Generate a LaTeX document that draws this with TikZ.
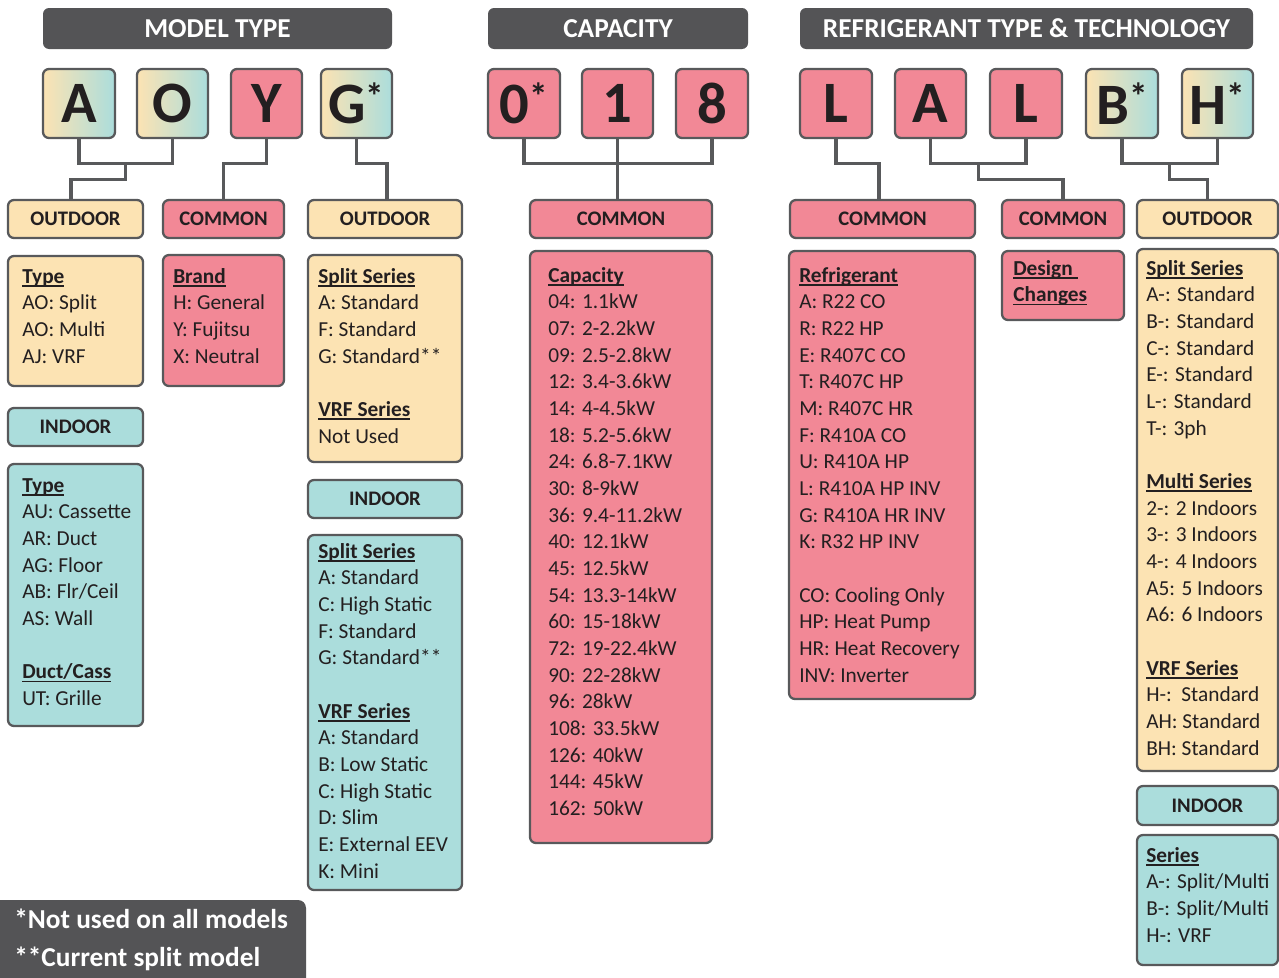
\documentclass[tikz,border=0pt]{standalone}
\usepackage{fontspec}
\setmainfont{Carlito}
\usetikzlibrary{fit,calc}
\definecolor{peach}{HTML}{FCE3B3}
\definecolor{pinkc}{HTML}{F28896}
\definecolor{tealc}{HTML}{ABDDDC}
\definecolor{dgray}{HTML}{545456}
\definecolor{bord}{HTML}{58595B}
\definecolor{ink}{HTML}{231F20}
\newcommand\myhd[1]{\setbox0\hbox{\bfseries #1}\rlap{\rule[-2.6pt]{\wd0}{1.3pt}}\box0}
\newcommand\myast{\raisebox{11pt}{\fontsize{28}{28}\selectfont *}}
\newcommand\fl{\rule{0pt}{12pt}}
\begin{document}
\begin{tikzpicture}[x=0.75pt,y=-0.75pt,
  every node/.style={text=ink},
  box/.style={draw=bord, line width=1.7pt, rounded corners=4.5pt, inner sep=0pt},
  hdr/.style={fill=dgray, rounded corners=4.5pt, inner sep=0pt},
  hdrt/.style={text=white, inner sep=0pt, font=\bfseries\fontsize{20.5}{24}\selectfont},
  gletter/.style={box, left color=peach, right color=tealc},
  pletter/.style={box, fill=pinkc},
  bigl/.style={inner sep=0pt, font=\bfseries\fontsize{44}{48}\selectfont},
  lblt/.style={inner sep=0pt, font=\bfseries\fontsize{15.5}{18}\selectfont},
  pk/.style={fill=pinkc}, pc/.style={fill=peach}, tl/.style={fill=tealc},
  txt/.style={anchor=north west, align=left, inner sep=0pt, font=\fontsize{16}{20}\selectfont},
  conn/.style={draw=bord, line width=2.3pt}]
\clip (0,0) rectangle (1279,978);
\fill[white] (0,0) rectangle (1279,978);

% headers
\node[hdr, fit={(43,8)(392,49)}, label={[hdrt]center:MODEL TYPE}] (h1) {};
\node[hdr, fit={(488,8)(748,49)}, label={[hdrt]center:CAPACITY}] (h2) {};
\node[hdr, fit={(800,8)(1253,49)}, label={[hdrt]center:REFRIGERANT TYPE \& TECHNOLOGY}] (h3) {};

% letter boxes
\node[gletter, fit={(43,69)(115,138)}, label={[bigl]center:A}] (A1) {};
\node[gletter, fit={(137,69)(208,138)}, label={[bigl]center:O}] (O1) {};
\node[pletter, fit={(231,69)(302,138)}, label={[bigl]center:Y}] (Y1) {};
\node[gletter, fit={(321,69)(392,138)}, label={[bigl]center:G\myast}] (G1) {};
\node[pletter, fit={(488,69)(560,138)}, label={[bigl]center:0\myast}] (C0) {};
\node[pletter, fit={(582,69)(653,138)}, label={[bigl]center:1}] (C1) {};
\node[pletter, fit={(676,69)(748,138)}, label={[bigl]center:8}] (C8) {};
\node[pletter, fit={(800,69)(872,138)}, label={[bigl]center:L}] (L1) {};
\node[pletter, fit={(895,69)(966,138)}, label={[bigl]center:A}] (A2) {};
\node[pletter, fit={(990,69)(1062,138)}, label={[bigl]center:L}] (L2) {};
\node[gletter, fit={(1086,69)(1158,138)}, label={[bigl]center:B\myast}] (B1) {};
\node[gletter, fit={(1182,69)(1253,138)}, label={[bigl]center:H\myast}] (H1) {};

% label boxes
\node[box, pc, fit={(8,200)(143,238)}, label={[lblt]center:OUTDOOR}] (OD1) {};
\node[box, pk, fit={(163,200)(284,238)}, label={[lblt]center:COMMON}] (CM1) {};
\node[box, pc, fit={(308,200)(462,238)}, label={[lblt]center:OUTDOOR}] (OD2) {};
\node[box, pk, fit={(530,200)(712,238)}, label={[lblt]center:COMMON}] (CM2) {};
\node[box, pk, fit={(790,200)(975,238)}, label={[lblt]center:COMMON}] (CM3) {};
\node[box, pk, fit={(1002,200)(1124,238)}, label={[lblt]center:COMMON}] (CM4) {};
\node[box, pc, fit={(1137,200)(1278,238)}, label={[lblt]center:OUTDOOR}] (OD3) {};
\node[box, tl, fit={(8,408)(143,446)}, label={[lblt]center:INDOOR}] (IN1) {};
\node[box, tl, fit={(308,480)(462,518)}, label={[lblt]center:INDOOR}] (IN2) {};
\node[box, tl, fit={(1137,786)(1278,825)}, label={[lblt]center:INDOOR}] (IN3) {};

% info boxes
\node[box, pc, fit={(8,256)(143,386)}] (T1) {};
\node[box, pk, fit={(163,255)(284,386)}] (BR) {};
\node[box, pc, fit={(308,255)(462,462)}] (S1) {};
\node[box, tl, fit={(8,464)(143,726)}] (T2) {};
\node[box, tl, fit={(308,535)(462,890)}] (S2) {};
\node[box, pk, fit={(530,251)(712,843)}] (CAP) {};
\node[box, pk, fit={(789,251)(975,699)}] (REF) {};
\node[box, pk, fit={(1002,251)(1124,320)}] (DES) {};
\node[box, pc, fit={(1137,249)(1278,771)}] (RS) {};
\node[box, tl, fit={(1137,835)(1278,965)}] (SER) {};

\node[txt] (T1t) at (22,267) {\fl\myhd{Type}\\AO: Split\\AO: Multi\\AJ: VRF};
\node[txt] (BRt) at (173,267) {\fl\myhd{Brand}\\H: General\\Y: Fujitsu\\X: Neutral};
\node[txt] (S1t) at (318,267) {\fl\myhd{Split Series}\\A: Standard\\F: Standard\\G: Standard**\\[20pt]\myhd{VRF Series}\\Not Used};
\node[txt] (T2t) at (22,476) {\fl\myhd{Type}\\AU: Cassette\\AR: Duct\\AG: Floor\\AB: Flr/Ceil\\AS: Wall\\[20pt]\myhd{Duct/Cass}\\UT: Grille};
\node[txt] (S2t) at (318,542) {\fl\myhd{Split Series}\\A: Standard\\C: High Static\\F: Standard\\G: Standard**\\[20pt]\myhd{VRF Series}\\A: Standard\\B: Low Static\\C: High Static\\D: Slim\\E: External EEV\\K: Mini};
\node[txt] (CAPt) at (548,266) {\fl\myhd{Capacity}\\04: 1.1kW\\07: 2-2.2kW\\09: 2.5-2.8kW\\12: 3.4-3.6kW\\14: 4-4.5kW\\18: 5.2-5.6kW\\24: 6.8-7.1KW\\30: 8-9kW\\36: 9.4-11.2kW\\40: 12.1kW\\45: 12.5kW\\54: 13.3-14kW\\60: 15-18kW\\72: 19-22.4kW\\90: 22-28kW\\96: 28kW\\108: 33.5kW\\126: 40kW\\144: 45kW\\162: 50kW};
\node[txt] (REFt) at (799,266) {\fl\myhd{Refrigerant}\\A: R22 CO\\R: R22 HP\\E: R407C CO\\T: R407C HP\\M: R407C HR\\F: R410A CO\\U: R410A HP\\L: R410A HP INV\\G: R410A HR INV\\K: R32 HP INV\\[20pt]CO: Cooling Only\\HP: Heat Pump\\HR: Heat Recovery\\INV: Inverter};
\node[txt] (DESt) at (1013,259) {\fl\myhd{Design\ }\\\myhd{Changes}};
\node[txt] (RSt) at (1146,259) {\fl\myhd{Split Series}\\A-: Standard\\B-: Standard\\C-: Standard\\E-: Standard\\L-: Standard\\T-: 3ph\\[20pt]\myhd{Multi Series}\\2-: 2 Indoors\\3-: 3 Indoors\\4-: 4 Indoors\\A5: 5 Indoors\\A6: 6 Indoors\\[20pt]\myhd{VRF Series}\\H-:\ \ Standard\\AH: Standard\\BH: Standard};
\node[txt] (SERt) at (1146,846) {\fl\myhd{Series}\\A-: Split/Multi\\B-: Split/Multi\\H-: VRF};

% connectors
\draw[conn] (A1.south) -- ++(0,24) coordinate (ja) -| (O1.south);
\draw[conn] ($(ja)!0.5!(ja -| O1.south)$) -- ++(0,16) -| ($(OD1.north)+(-4.5,0)$);
\draw[conn] (Y1.south) -- ++(0,24) -| (CM1.north);
\draw[conn] (G1.south) -- ++(0,24) -| ($(OD2.north)+(2,0)$);
\draw[conn] (C0.south) -- ++(0,24) -| (C8.south);
\draw[conn] (C1.south) -- (C1.south |- CM2.north);
\draw[conn] (L1.south) -- ++(0,24) -| ($(CM3.north)+(-3.5,0)$);
\draw[conn] (A2.south) -- ++(0,24) coordinate (jb) -| (L2.south);
\draw[conn] ($(jb)!0.5!(jb -| L2.south)$) -- ++(0,16) -| (CM4.north);
\draw[conn] (B1.south) -- ++(0,24) coordinate (jc) -| (H1.south);
\draw[conn] ($(jc)!0.5!(jc -| H1.south)$) -- ++(0,16) -| (OD3.north);

% footer
\node[fill=dgray, rounded corners=6pt, inner sep=0pt, fit={(-20,900)(306,1000)}] (foot) {};
\node[anchor=north west, align=left, inner sep=0pt, text=white, font=\bfseries\fontsize{20.5}{29}\selectfont] (foott) at (14,908) {\rule{0pt}{15pt}*Not used on all models\\**Current split model};
\end{tikzpicture}
\end{document}
